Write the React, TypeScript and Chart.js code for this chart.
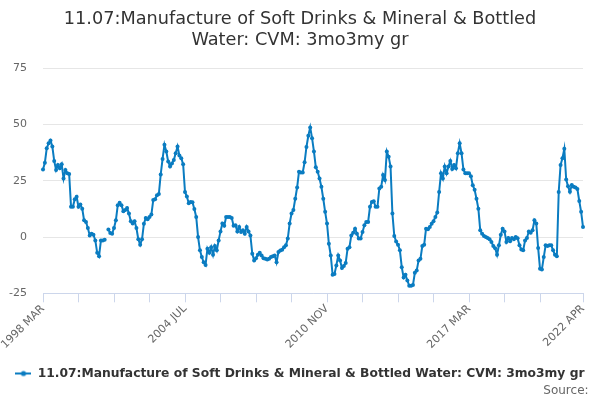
import React, { useEffect, useRef } from "react";
import { Chart, registerables } from "chart.js";

Chart.register(...registerables);

const MONTH_NAMES = ["JAN", "FEB", "MAR", "APR", "MAY", "JUN", "JUL", "AUG", "SEP", "OCT", "NOV", "DEC"];
const START_YEAR = 1998;
const START_MONTH = 2; // MAR

// Monthly values, 1998 MAR .. 2022 APR
const growth: (number | null)[] = [
  30, 33, 39.4, 41.7, 42.9, 40.2, 33.8, 29.8, 32, 30.5,
  32.3, 26, 29.8, 28.3, 28, 13.4, 13.4, 16.8, 17.9, 13.4,
  14.4, 12.6, 7.4, 6.7, 4, 0.7, 1.5, 1, -1.5, -7,
  -8.5, -1.5, -1.5, -1.2, null, 3.3, 1.8, 1.5, 4, 7.4,
  14.1, 15.2, 14.1, 11.5, 12, 12.9, 10.4, 7, 6, 7,
  4, -1, -3.4, -1, 5.9, 8.5, 7.9, 8.9, 10, 16.4,
  16.8, 18.6, 19.1, 27.8, 34.7, 41, 38, 33.5, 31.3, 32.7,
  34.2, 37.2, 40.2, 36.2, 35, 32.3, 20, 18, 15, 15.6,
  15.4, 12.4, 8.9, 0, -5.9, -8.9, -11.2, -12.4, -5.2, -7,
  -4.5, -7.9, -4, -5.9, -1.5, 2.5, 6, 5, 8.9, 8.9,
  8.9, 8.5, 5, 5.2, 2.5, 4.5, 2.2, 3, 1.5, 4.5,
  2.5, 0.7, -7.4, -10.4, -9.4, -7.9, -7, -8.2, -9.4, -9.7,
  -10, -9.7, -8.9, -8.5, -8.2, -11.2, -6.7, -6, -5.7, -4.5,
  -3.7, -0.7, 6, 10.4, 12, 17, 22, 29, 28.7, 28.7,
  33.2, 40, 45, 48.7, 43.9, 38, 31, 29, 26, 22.3,
  17, 11.2, 6, -3, -8.2, -16.8, -16.4, -12.6, -8.2, -10.4,
  -13.8, -12.9, -11.5, -5.2, -4.5, 0.7, 1.9, 3.7, 1.5, -0.7,
  -0.7, 2.2, 5.2, 6.7, 6.7, 13.4, 15.6, 15.9, 13.4, 13.4,
  21.6, 22.3, 27.5, 25.3, 38, 35.7, 31.3, 10.4, 0.5, -2,
  -3.4, -5.9, -13.4, -18, -16.8, -19.3, -21.6, -21.6, -21.3, -15.9,
  -14.9, -10.4, -9.7, -4, -3.4, 3.7, 3.4, 4.5, 5.9, 7,
  8.9, 10.9, 20, 28.3, 26, 31.3, 28.3, 31.3, 33.8, 30.2,
  32, 30.5, 37.2, 41.7, 37.2, 30, 28.3, 28.3, 28.3, 27,
  23, 21, 17, 12.6, 3, 1.5, 0.5, 0, -0.4, -1,
  -2.2, -4, -5, -7.9, -3.7, 1, 3.7, 2.5, -2.2, -0.4,
  -1.9, -0.4, -1, 0, -0.5, -3.7, -5.5, -5.9, -1.5, -0.4,
  2.5, 1.9, 3, 7.4, 6, -4.9, -14.1, -14.4, -8.9, -3.7,
  -4, -3.7, -3.7, -5.9, -7.9, -8.5, 20, 32, 35, 39.2,
  25.5, 22.5, 20.1, 23.1, 22.3, 22, 21.3, 16, 11.2, 4.5,
];

const categories: string[] = growth.map((_, i) => {
  const t = START_MONTH + i;
  return `${START_YEAR + Math.floor(t / 12)} ${MONTH_NAMES[t % 12]}`;
});

const labelledTicks = ["1998 MAR", "2004 JUL", "2010 NOV", "2017 MAR", "2022 APR"];
const MINOR_TICK_STEP = 19;
const Y_MIN = -25;
const Y_MAX = 75;
const Y_STEP = 25;

const SERIES_NAME = "11.07:Manufacture of Soft Drinks & Mineral & Bottled Water: CVM: 3mo3my gr";
const TITLE_LINES = ["11.07:Manufacture of Soft Drinks & Mineral & Bottled", "Water: CVM: 3mo3my gr"];
const SOURCE_TEXT = "Source:\u00a0\u00a0\u00a0";
const LINE_COLOR = "#0a7cc1";

export default function App() {
  const canvasRef = useRef<HTMLCanvasElement | null>(null);

  useEffect(() => {
    document.body.style.margin = "0";
    const canvas = canvasRef.current;
    if (!canvas) return;

    Chart.defaults.font.family = '"DejaVu Sans", sans-serif';

    const marker = document.createElement("canvas");
    marker.width = 16;
    marker.height = 8;
    const mc = marker.getContext("2d");
    if (mc) {
      mc.strokeStyle = LINE_COLOR;
      mc.lineWidth = 2;
      mc.beginPath();
      mc.moveTo(0, 4);
      mc.lineTo(16, 4);
      mc.stroke();
      mc.fillStyle = LINE_COLOR;
      mc.beginPath();
      mc.arc(8, 4, 2.6, 0, Math.PI * 2);
      mc.fill();
    }

    const last = categories.length - 1;

    const chart = new Chart(canvas, {
      type: "line",
      data: {
        labels: categories,
        datasets: [
          {
            label: SERIES_NAME,
            data: growth,
            borderColor: LINE_COLOR,
            backgroundColor: LINE_COLOR,
            borderWidth: 2,
            pointRadius: 2,
            pointBorderWidth: 0,
            pointBackgroundColor: LINE_COLOR,
            tension: 0,
            spanGaps: false,
          },
        ],
      },
      options: {
        animation: false,
        responsive: true,
        maintainAspectRatio: false,
        layout: { padding: { left: 0, right: 0, top: 0, bottom: 0 } },
        plugins: {
          title: {
            display: true,
            text: TITLE_LINES,
            color: "#333333",
            font: { size: 17.7, weight: "normal", lineHeight: 1.2 },
            padding: { top: 9, bottom: 16.7 },
          },
          subtitle: {
            display: true,
            text: SOURCE_TEXT,
            position: "bottom",
            align: "end",
            color: "#666666",
            font: { size: 12, weight: "normal" },
            padding: { top: -6, bottom: 2 },
          },
          legend: {
            display: true,
            position: "bottom",
            labels: {
              usePointStyle: true,
              pointStyleWidth: 16,
              color: "#333333",
              font: { size: 12.3, weight: "bold" },
              padding: 4,
              generateLabels: () => [
                {
                  text: SERIES_NAME,
                  fillStyle: LINE_COLOR,
                  strokeStyle: LINE_COLOR,
                  pointStyle: marker as any,
                  lineWidth: 0,
                  hidden: false,
                  datasetIndex: 0,
                  fontColor: "#333333",
                } as any,
              ],
            },
          },
          tooltip: { enabled: false },
        },
        scales: {
          x: {
            type: "category",
            ticks: {
              autoSkip: false,
              maxRotation: 45,
              minRotation: 45,
              color: "#666666",
              font: { size: 11 },
              padding: 0,
              callback: (v: any) => {
                const i = Number(v);
                return labelledTicks.includes(categories[i]) ? categories[i] : "";
              },
            },
            afterBuildTicks: (s: any) => {
              s.ticks = s.ticks.filter(
                (t: any) => (t.value % MINOR_TICK_STEP === 0 && t.value <= last - MINOR_TICK_STEP) || t.value === last
              );
            },
            afterFit: (s: any) => {
              s.paddingLeft = 0;
              s.paddingRight = 17;
              s.height = 70;
            },
            grid: { drawOnChartArea: false, drawTicks: true, tickLength: 9, color: "#ccd6eb" },
            border: { color: "#ccd6eb" },
          },
          y: {
            min: Y_MIN,
            max: Y_MAX,
            ticks: { stepSize: Y_STEP, color: "#666666", font: { size: 11 }, padding: 16 },
            grid: { color: "#e6e6e6", drawTicks: false },
            border: { display: false },
            afterFit: (s: any) => {
              s.width = 43;
            },
          },
        },
      },
    });

    return () => chart.destroy();
  }, []);

  return (
    <div style={{ position: "relative", width: 600, height: 400 }}>
      <canvas ref={canvasRef} />
    </div>
  );
}
